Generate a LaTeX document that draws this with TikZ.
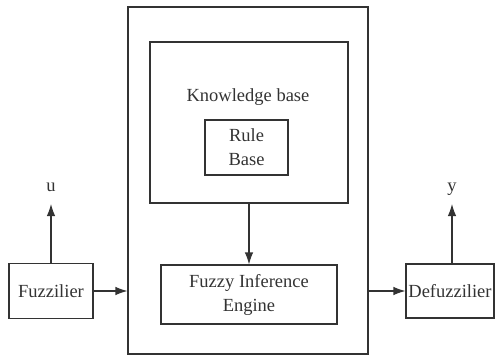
\documentclass[tikz,border=0pt]{standalone}
\usepackage{fontspec}
\setmainfont{Liberation Serif}
\usetikzlibrary{arrows.meta}
\begin{document}
\begin{tikzpicture}[x=1pt,y=-1pt,
  line width=1.1pt, draw=black!80, text=black!80,
  box/.style={draw=black!80, line width=1.1pt, inner sep=0pt, align=center, font=\fontsize{18.5}{24}\selectfont},
  lbl/.style={font=\fontsize{18.5}{24}\selectfont, text=black!80, inner sep=0pt},
  arr/.style={draw=black!80, line width=1.1pt, -{Latex[length=12pt,width=8.5pt]}}]
\useasboundingbox (0,0) rectangle (496,356);
\node[box, minimum width=240pt, minimum height=347pt] (outer) at (248,180.5) {};
\node[box, minimum width=198pt, minimum height=161pt] (kb) at (249,122.5) {};
\node[lbl] (kblab) at (248,97) {Knowledge base};
\node[box, minimum width=83pt, minimum height=55pt] (rule) at (246.5,147.5) {Rule\\Base};
\node[box, minimum width=176pt, minimum height=59pt] (fie) at (249,294.5) {Fuzzy Inference\\Engine};
\node[box, minimum width=84pt, minimum height=55pt] (fuzz) at (51,291) {Fuzzilier};
\node[box, minimum width=88pt, minimum height=54pt] (defuzz) at (450,291) {Defuzzilier};
\node[lbl] (ulab) at (51,187) {u};
\node[lbl] (ylab) at (452,189) {y};
\coordinate (utip) at (51,204);
\coordinate (ytip) at (452,204);
\draw[arr] (fuzz.east) -- (outer.west |- fuzz.east);
\draw[arr] (outer.east |- defuzz.west) -- (defuzz.west);
\draw[arr] (kb.south) -- (fie.north);
\draw[arr] (fuzz.north) -- (utip);
\draw[arr] (defuzz.north -| ytip) -- (ytip);
\end{tikzpicture}
\end{document}
